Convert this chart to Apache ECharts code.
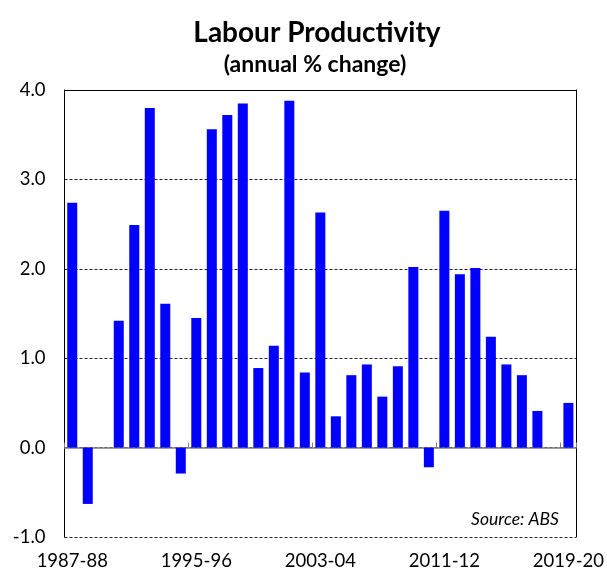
<!DOCTYPE html>
<html>
<head>
<meta charset="utf-8">
<script src="https://cdn.jsdelivr.net/npm/echarts@6/dist/echarts.min.js"></script>
<style>
    html, body { margin: 0; padding: 0; background: #fff; }
    #chart { width: 607px; height: 573px; }
</style>
</head>
<body>
<div id="chart"></div>
<script>
    // financial years, 1987-88 .. 2019-20
    var years = ['1987-88', '1988-89', '1989-90', '1990-91', '1991-92', '1992-93', '1993-94', '1994-95',
        '1995-96', '1996-97', '1997-98', '1998-99', '1999-00', '2000-01', '2001-02', '2002-03',
        '2003-04', '2004-05', '2005-06', '2006-07', '2007-08', '2008-09', '2009-10', '2010-11',
        '2011-12', '2012-13', '2013-14', '2014-15', '2015-16', '2016-17', '2017-18', '2018-19',
        '2019-20'];
    // annual % change
    var productivity = [2.74, -0.63, 0.0, 1.42, 2.49, 3.80, 1.61, -0.29,
        1.45, 3.56, 3.72, 3.85, 0.89, 1.14, 3.88, 0.84,
        2.63, 0.35, 0.81, 0.93, 0.57, 0.91, 2.02, -0.22,
        2.65, 1.94, 2.01, 1.24, 0.93, 0.81, 0.41, 0.0,
        0.50];
    var yMin = -1, yMax = 4, yStep = 1;

    var fontName = 'Lato, "Open Sans", sans-serif';
    var chart = echarts.init(document.getElementById('chart'));

    var option = {
        animation: false,
        backgroundColor: '#fff',
        grid: {
            left: 64.5,
            right: 29,
            top: 90,
            bottom: 36
        },
        graphic: [
            {
                type: 'text',
                style: {
                    text: 'Labour Productivity',
                    x: 317, y: 33,
                    textAlign: 'center', textVerticalAlign: 'middle',
                    align: 'center', verticalAlign: 'middle',
                    font: 'bold 28px ' + fontName,
                    fill: '#000'
                }
            },
            {
                type: 'text',
                style: {
                    text: '(annual % change)',
                    x: 315, y: 65,
                    textAlign: 'center', textVerticalAlign: 'middle',
                    align: 'center', verticalAlign: 'middle',
                    font: 'bold 23px ' + fontName,
                    fill: '#000'
                }
            },
            {
                type: 'text',
                style: {
                    text: 'Source: ABS',
                    x: 559, y: 519,
                    textAlign: 'right', textVerticalAlign: 'middle',
                    align: 'right', verticalAlign: 'middle',
                    font: 'italic 17.5px ' + fontName,
                    fill: '#000'
                }
            }
        ],
        xAxis: [
            {
                // labels along the bottom
                type: 'category',
                data: years,
                position: 'bottom',
                axisLine: { show: false, onZero: false },
                axisTick: { show: false },
                axisLabel: {
                    interval: 7,
                    margin: 15,
                    color: '#000',
                    fontSize: 18.5,
                    fontFamily: fontName
                }
            },
            {
                // zero line with boundary ticks
                type: 'category',
                data: years,
                position: 'bottom',
                axisLine: { show: true, onZero: true, lineStyle: { color: '#7f7f7f', width: 1.5 } },
                axisTick: { show: true, inside: true, interval: 7, length: 5, lineStyle: { color: '#7f7f7f' } },
                axisLabel: { show: false }
            },
            {
                // top border
                type: 'category',
                data: years,
                position: 'top',
                axisLine: { show: true, onZero: false, lineStyle: { color: '#000' } },
                axisTick: { show: false },
                axisLabel: { show: false }
            }
        ],
        yAxis: [
            {
                type: 'value',
                min: yMin,
                max: yMax,
                interval: yStep,
                axisLine: { show: true, lineStyle: { color: '#000' } },
                axisTick: { show: false },
                axisLabel: {
                    margin: 19,
                    color: '#000',
                    fontSize: 18.5,
                    fontFamily: fontName,
                    formatter: function (v) { return v.toFixed(1); }
                },
                splitLine: {
                    show: true,
                    lineStyle: { color: '#222', type: [3, 2], width: 1 }
                }
            },
            {
                // right border
                type: 'value',
                position: 'right',
                min: yMin,
                max: yMax,
                interval: yStep,
                axisLine: { show: true, lineStyle: { color: '#000' } },
                axisTick: { show: false },
                axisLabel: { show: false },
                splitLine: { show: false }
            }
        ],
        series: [
            {
                name: 'Labour productivity',
                type: 'bar',
                xAxisIndex: 0,
                yAxisIndex: 0,
                data: productivity,
                barWidth: 10,
                itemStyle: { color: '#0000ff' }
            }
        ]
    };

    chart.setOption(option);
</script>
</body>
</html>
